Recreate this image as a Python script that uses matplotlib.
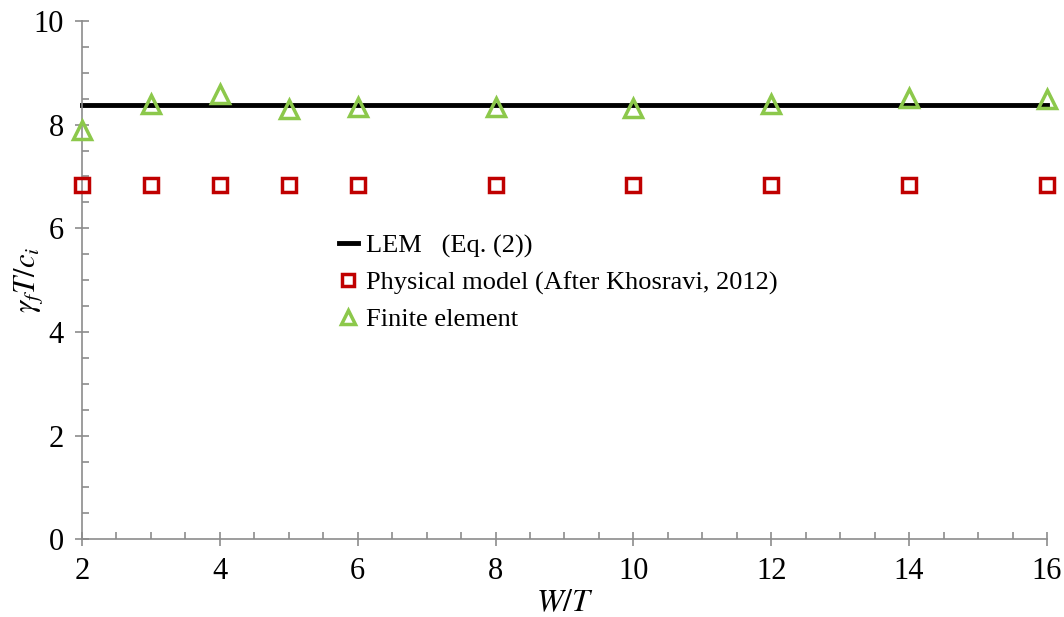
import matplotlib.pyplot as plt
import matplotlib.ticker as mticker

plt.rcParams['font.family'] = ['Liberation Serif', 'DejaVu Serif']
plt.rcParams['mathtext.fontset'] = 'stix'

# data
wt = [2, 3, 4, 5, 6, 8, 10, 12, 14, 16]
lem_x = [2, 16]
lem_y = [8.38, 8.38]
physical = [6.83, 6.83, 6.83, 6.83, 6.83, 6.83, 6.83, 6.83, 6.83, 6.83]
fem = [7.90, 8.40, 8.59, 8.30, 8.34, 8.34, 8.32, 8.40, 8.51, 8.49]

axis_grey = '#8c8c8c'

fig = plt.figure(figsize=(10.64, 6.17), dpi=100)
ax = fig.add_axes([0.077, 0.126, 0.907, 0.840])

ax.plot(lem_x, lem_y, color='black', lw=3.5, label='LEM   (Eq. (2))', zorder=2)
ax.plot(wt, physical, ls='none', marker='s', ms=10, mfc='none', mec='#c00000',
        mew=2.5, label='Physical model (After Khosravi, 2012)', zorder=3)
ax.plot(wt, fem, ls='none', marker='^', ms=13, mfc='none', mec='#8cc84b',
        mew=2.5, label='Finite element', zorder=3)

ax.set_xlim(2, 16)
ax.set_ylim(0, 10)
ax.set_xticks([2, 4, 6, 8, 10, 12, 14, 16])
ax.set_yticks([0, 2, 4, 6, 8, 10])
ax.xaxis.set_minor_locator(mticker.MultipleLocator(0.5))
ax.yaxis.set_minor_locator(mticker.MultipleLocator(0.5))

for s in ['top', 'right']:
    ax.spines[s].set_visible(False)
for s in ['left', 'bottom']:
    ax.spines[s].set_color(axis_grey)
    ax.spines[s].set_linewidth(1.2)

ax.tick_params(which='major', direction='inout', length=10, width=1.2,
               color=axis_grey, labelsize=22, pad=8)
ax.tick_params(which='minor', direction='in', length=5, width=1.2, color=axis_grey)

ax.set_xlabel(r'$W/T$', fontsize=23, labelpad=2)
ax.set_ylabel(r'$\gamma_f T/c_i$', fontsize=22)
ax.yaxis.set_label_coords(-0.038, 0.5)

leg = ax.legend(loc='upper left', bbox_to_anchor=(0.255, 0.61), frameon=False,
                fontsize=19, handlelength=0.75, handletextpad=0.3,
                labelspacing=0.5, borderaxespad=0, markerscale=0.8)
for line in ax.lines:
    line.set_clip_on(False)

fig.savefig('out.png', dpi=100)
